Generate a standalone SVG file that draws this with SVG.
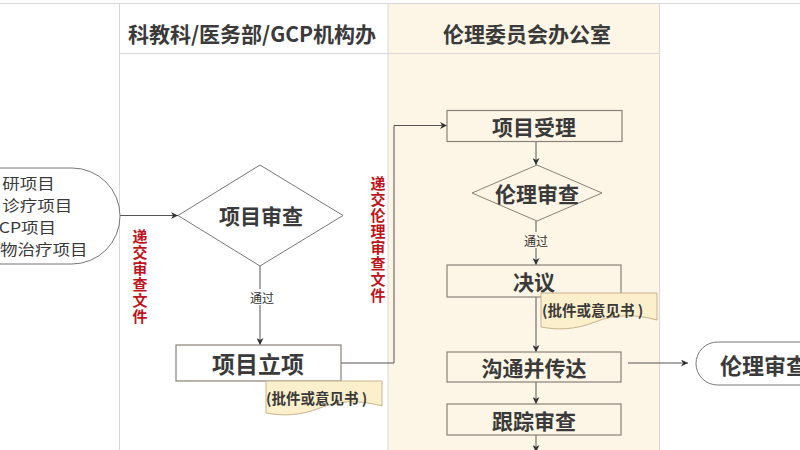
<svg xmlns="http://www.w3.org/2000/svg" width="800" height="450" viewBox="0 0 800 450">
<defs>
<marker id="arr" viewBox="0 0 10 10" refX="10" refY="5" markerWidth="7" markerHeight="7" markerUnits="userSpaceOnUse" orient="auto">
<path d="M0,0 L10,5 L0,10 L3,5 Z" fill="#333"/>
</marker>
<style>
.lane{stroke:#d8d8d8;stroke-width:1;fill:none}
.hdr{font-family:"Noto Sans CJK SC","Liberation Sans",sans-serif;font-weight:bold;font-size:21px;fill:#3a3a3a;text-anchor:middle;dominant-baseline:central}
.lbl{font-family:"Noto Sans CJK SC","Liberation Sans",sans-serif;font-weight:bold;font-size:21px;fill:#3a3a3a;text-anchor:middle;dominant-baseline:central}
.box{stroke:#8a8178;stroke-width:1.2}
.wbox{fill:#ffffff}
.bbox{fill:#fdf6e6}
.note{fill:#fcefcb;stroke:#c9b48c;stroke-width:1}
.ntx{font-family:"Noto Sans CJK SC","Liberation Sans",sans-serif;font-weight:bold;font-size:14.5px;fill:#3a3a3a}
.red{font-family:"Noto Sans CJK SC","Liberation Sans",sans-serif;font-weight:bold;font-size:15px;fill:#c0141c;writing-mode:vertical-rl;letter-spacing:1px}
.pass{font-family:"Noto Sans CJK SC","Liberation Sans",sans-serif;font-size:12px;fill:#333;text-anchor:middle;dominant-baseline:central}
.conn{stroke:#555;stroke-width:1;fill:none}
.term{font-family:"Noto Sans CJK SC","Liberation Sans",sans-serif;font-size:15.1px;fill:#3a3a3a}
</style>
</defs>
<rect x="0" y="0" width="800" height="450" fill="#ffffff"/>
<g id="lanes">
<rect x="388" y="3.5" width="271" height="447" fill="#fdf6e6"/>
<line class="lane" x1="0" y1="3.5" x2="800" y2="3.5"/>
<line class="lane" x1="119.5" y1="3.5" x2="119.5" y2="450"/>
<line class="lane" x1="388" y1="3.5" x2="388" y2="450" stroke="#ece3cf"/>
<line class="lane" x1="659.5" y1="3.5" x2="659.5" y2="450"/>
<line class="lane" x1="119.5" y1="53.5" x2="659.5" y2="53.5"/>
<text class="hdr" x="252" y="33">科教科/医务部/GCP机构办</text>
<text class="hdr" x="527" y="33">伦理委员会办公室</text>
</g>
<g id="connectors">
<line class="conn" x1="120" y1="215.5" x2="178" y2="215.5" marker-end="url(#arr)"/>
<line class="conn" x1="260" y1="266" x2="260" y2="345" marker-end="url(#arr)"/>
<polyline class="conn" points="341,363 394,363 394,125.5 447,125.5" marker-end="url(#arr)"/>
<line class="conn" x1="536" y1="142" x2="536" y2="165" marker-end="url(#arr)"/>
<line class="conn" x1="536" y1="221" x2="536" y2="265" marker-end="url(#arr)"/>
<line class="conn" x1="536" y1="297" x2="536" y2="352" marker-end="url(#arr)"/>
<line class="conn" x1="536" y1="382" x2="536" y2="404" marker-end="url(#arr)"/>
<line class="conn" x1="536" y1="435" x2="536" y2="452" marker-end="url(#arr)"/>
<line class="conn" x1="628" y1="363" x2="688" y2="363" marker-end="url(#arr)"/>
<rect x="248" y="289" width="28" height="16" fill="#ffffff"/>
<text class="pass" x="262" y="297">通过</text>
<rect x="522" y="232" width="28" height="16" fill="#fdf6e6"/>
<text class="pass" x="536" y="240">通过</text>
<text class="red" x="140" y="229">递交审查文件</text>
<text class="red" x="378" y="176">递交伦理审查文件</text>
</g>
<g id="start">
<path d="M-10,168 H72 A48,48 0 0 1 72,264 H-10" fill="#ffffff" stroke="#777" stroke-width="1"/>
<g transform="scale(1.16,1)">
<text class="term" x="2" y="189.5">研项目</text>
<text class="term" x="2" y="211.5">诊疗项目</text>
<text class="term" x="-1" y="233.5">CP项目</text>
<text class="term" x="0" y="255.5">物治疗项目</text>
</g>
</g>
<g id="review1">
<polygon points="178,215.5 260,165 343,215.5 260,266" fill="#ffffff" stroke="#777" stroke-width="1"/>
<text class="lbl" x="261" y="215">项目审查</text>
</g>
<g id="approve">
<rect class="box wbox" x="176" y="345" width="165" height="36"/>
<text class="lbl" x="258" y="363" style="font-size:23px">项目立项</text>
</g>
<g id="note1">
<path class="note" d="M266,381 H382 V406 C360,400 340,400 320,408 C300,416 282,416 266,413 Z"/>
<text class="ntx" x="266" y="404">(批件或意见书 )</text>
</g>
<g id="accept">
<rect class="box bbox" x="447" y="110.5" width="175" height="31"/>
<text class="lbl" x="534" y="126">项目受理</text>
</g>
<g id="review2">
<polygon points="472,193 537,165 602,193 537,221" fill="#fdf6e6" stroke="#8a8178" stroke-width="1"/>
<text class="lbl" x="537" y="193">伦理审查</text>
</g>
<g id="decision">
<rect class="box bbox" x="447" y="265" width="174" height="32"/>
<text class="lbl" x="534" y="281">决议</text>
</g>
<g id="note2">
<path class="note" d="M541,293 H657 V320 C635,314 615,314 595,322 C575,330 557,330 541,327 Z"/>
<text class="ntx" x="542" y="316">(批件或意见书 )</text>
</g>
<g id="communicate">
<rect class="box bbox" x="447" y="352" width="174" height="30"/>
<text class="lbl" x="534" y="367">沟通并传达</text>
</g>
<g id="track">
<rect class="box bbox" x="447" y="404" width="174" height="31"/>
<text class="lbl" x="534" y="420">跟踪审查</text>
</g>
<g id="end">
<path d="M810,342 H717.5 A21.5,21.5 0 0 0 717.5,385 H810" fill="#ffffff" stroke="#777" stroke-width="1"/>
<text class="lbl" x="720" y="364" style="text-anchor:start;font-size:22px">伦理审查</text>
</g>
</svg>
